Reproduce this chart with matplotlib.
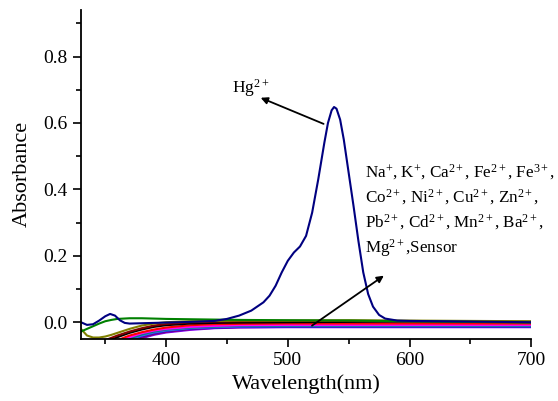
import matplotlib
matplotlib.use("Agg")
import matplotlib.pyplot as plt

plt.rcParams['font.family'] = ['Liberation Serif', 'DejaVu Serif']
plt.rcParams['mathtext.fontset'] = 'custom'
plt.rcParams['mathtext.rm'] = 'Liberation Serif'
plt.rcParams['mathtext.it'] = 'Liberation Serif:italic'
plt.rcParams['mathtext.bf'] = 'Liberation Serif:bold'

# Hg2+ spectrum
wl_hg = [330, 335, 340, 345, 350, 354, 358, 362, 366, 370, 380, 400, 420, 440, 450,
         460, 470, 480, 485, 490, 495, 500, 505, 510, 515, 520, 525, 530, 533, 536,
         538, 540, 543, 546, 550, 554, 558, 562, 566, 570, 575, 580, 590, 600, 650, 700]
abs_hg = [0.0, -0.008, -0.006, 0.005, 0.018, 0.025, 0.02, 0.006, -0.002, -0.004,
          -0.003, -0.001, 0.001, 0.004, 0.01, 0.02, 0.035, 0.06, 0.08, 0.11, 0.15,
          0.185, 0.21, 0.228, 0.26, 0.33, 0.43, 0.54, 0.6, 0.638, 0.648, 0.643, 0.61,
          0.55, 0.45, 0.35, 0.245, 0.15, 0.085, 0.047, 0.022, 0.011, 0.005, 0.004, 0.002, 0.0]

# other ions + sensor (shared grid)
wl = [330, 335, 340, 345, 350, 355, 360, 370, 380, 390, 400, 420, 440, 460, 500, 550, 600, 650, 700]
abs_green = [-0.028, -0.02, -0.012, -0.004, 0.003, 0.007, 0.010, 0.012, 0.012, 0.011, 0.010,
             0.009, 0.008, 0.007, 0.006, 0.005, 0.003, 0.001, -0.001]
abs_olive = [-0.02, -0.04, -0.046, -0.046, -0.043, -0.038, -0.032, -0.02, -0.01, -0.004, 0.0,
             0.003, 0.004, 0.005, 0.005, 0.006, 0.005, 0.004, 0.003]
abs_wine = [-0.07, -0.07, -0.066, -0.06, -0.054, -0.047, -0.04, -0.028, -0.018, -0.01, -0.005,
            0.0, 0.002, 0.003, 0.004, 0.004, 0.003, 0.002, 0.001]
abs_black = [-0.08, -0.08, -0.075, -0.068, -0.06, -0.052, -0.045, -0.032, -0.022, -0.014, -0.009,
             -0.004, -0.002, -0.001, 0.0, 0.001, 0.002, 0.002, 0.001]
abs_red = [-0.09, -0.09, -0.085, -0.078, -0.07, -0.062, -0.054, -0.04, -0.03, -0.022, -0.016,
           -0.009, -0.006, -0.005, -0.004, -0.004, -0.004, -0.004, -0.004]
abs_magenta = [-0.1, -0.1, -0.095, -0.088, -0.08, -0.07, -0.06, -0.045, -0.033, -0.025, -0.02,
               -0.014, -0.011, -0.009, -0.008, -0.008, -0.008, -0.008, -0.008]
abs_cyan = [-0.1, -0.1, -0.096, -0.09, -0.082, -0.073, -0.064, -0.049, -0.037, -0.028, -0.022,
            -0.016, -0.013, -0.011, -0.01, -0.01, -0.01, -0.01, -0.01]
abs_royal = [-0.11, -0.11, -0.105, -0.098, -0.09, -0.08, -0.07, -0.053, -0.04, -0.031, -0.025,
             -0.018, -0.015, -0.013, -0.012, -0.012, -0.012, -0.012, -0.012]
abs_blue = [-0.11, -0.11, -0.105, -0.098, -0.09, -0.08, -0.07, -0.054, -0.041, -0.032, -0.026,
            -0.019, -0.016, -0.014, -0.013, -0.013, -0.013, -0.013, -0.013]
abs_purple = [-0.12, -0.12, -0.114, -0.106, -0.097, -0.087, -0.077, -0.06, -0.046, -0.036, -0.029,
              -0.021, -0.017, -0.015, -0.014, -0.014, -0.014, -0.014, -0.014]
abs_violet = [-0.12, -0.12, -0.115, -0.108, -0.1, -0.09, -0.08, -0.062, -0.048, -0.038, -0.031,
              -0.023, -0.018, -0.016, -0.015, -0.015, -0.015, -0.015, -0.015]

others = [
    (abs_violet, '#8000ff'),
    (abs_purple, '#800080'),
    (abs_blue, '#0000ff'),
    (abs_royal, '#4169e1'),
    (abs_cyan, '#008080'),
    (abs_magenta, '#ff00ff'),
    (abs_red, '#ff0000'),
    (abs_black, '#000000'),
    (abs_wine, '#800000'),
    (abs_olive, '#808000'),
    (abs_green, '#008000'),
]

fig = plt.figure(figsize=(5.58, 4.01), dpi=100)
ax = fig.add_axes([0.145, 0.155, 0.807, 0.82])

for vals, c in others:
    ax.plot(wl, vals, color=c, lw=1.5)
ax.plot(wl_hg, abs_hg, color='#000080', lw=1.5)

ax.set_xlim(330, 700)
ax.set_ylim(-0.05, 0.94)
ax.set_xticks([400, 500, 600, 700])
ax.set_xticks([350, 450, 550, 650], minor=True)
ax.set_yticks([0.0, 0.2, 0.4, 0.6, 0.8])
ax.set_yticks([0.1, 0.3, 0.5, 0.7, 0.9], minor=True)
ax.set_yticklabels(['0.0', '0.2', '0.4', '0.6', '0.8'])

for s in ['top', 'right']:
    ax.spines[s].set_visible(False)
for s in ['left', 'bottom']:
    ax.spines[s].set_linewidth(1.3)
ax.tick_params(which='major', direction='out', length=6, width=1.2, labelsize=14)
ax.tick_params(which='minor', direction='out', length=3.5, width=1.2)

ax.set_xlabel('Wavelength(nm)', fontsize=16, labelpad=4)
ax.set_ylabel('Absorbance', fontsize=16, labelpad=8)

ax.annotate('', xy=(475.6, 0.679), xytext=(531.5, 0.594),
            arrowprops=dict(arrowstyle='-|>', color='black', lw=1.3, mutation_scale=10))
ax.text(454, 0.69, r'Hg$^{2+}$', fontsize=12.5, ha='left', va='baseline')

ax.annotate('', xy=(580.8, 0.145), xytext=(518, -0.015),
            arrowprops=dict(arrowstyle='-|>', color='black', lw=1.3, mutation_scale=10))
label = (r'Na$^{+}$, K$^{+}$, Ca$^{2+}$, Fe$^{2+}$, Fe$^{3+}$,' + '\n' +
         r'Co$^{2+}$, Ni$^{2+}$, Cu$^{2+}$, Zn$^{2+}$,' + '\n' +
         r'Pb$^{2+}$, Cd$^{2+}$, Mn$^{2+}$, Ba$^{2+}$,' + '\n' +
         r'Mg$^{2+}$,Sensor')
ax.text(563.5, 0.48, label, fontsize=12.3, ha='left', va='top', linespacing=1.33)

fig.savefig('out.png', dpi=100)
